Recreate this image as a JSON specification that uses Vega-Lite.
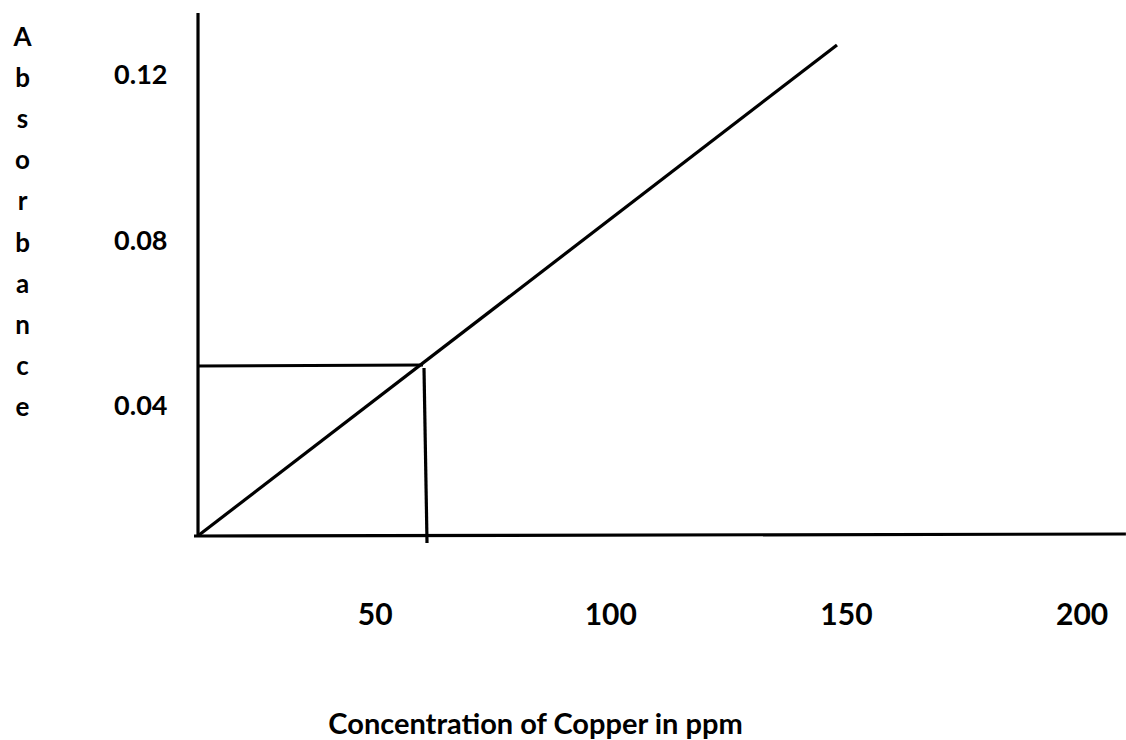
{
  "$schema": "https://vega.github.io/schema/vega-lite/v6.json",
  "width": 936,
  "height": 540,
  "autosize": {"type": "none"},
  "padding": {"left": 190, "top": 10, "right": 0, "bottom": 190},
  "background": "white",
  "config": {
    "view": {"stroke": null},
    "axis": {"grid": false, "domain": false, "ticks": false, "tickSize": 0, "labelColor": "black", "titleColor": "black", "labelFont": "Lato", "titleFont": "Lato", "labelFontWeight": "bold", "titleFontWeight": "bold"}
  },
  "data": {
    "values": [
      {"part": "y axis", "x0": 12.52, "y0": 0.13494, "x1": 12.52, "y1": 0.008675},
      {"part": "x axis", "x0": 11.67, "y0": 0.008916, "x1": 209.4, "y1": 0.009398},
      {"part": "calibration line", "x0": 12.73, "y0": 0.009157, "x1": 148.1, "y1": 0.12723},
      {"part": "absorbance reading", "x0": 12.31, "y0": 0.04988, "x1": 60.26, "y1": 0.05012},
      {"part": "concentration reading", "x0": 60.47, "y0": 0.0494, "x1": 61.11, "y1": 0.00723}
    ]
  },
  "mark": {"type": "rule", "color": "black", "strokeWidth": 3.2, "strokeCap": "butt"},
  "encoding": {
    "x": {
      "field": "x0", "type": "quantitative",
      "scale": {"domain": [10.82, 209.42], "nice": false, "zero": false},
      "axis": {
        "values": [50, 100, 150, 200],
        "labelFontSize": 30, "labelBaseline": "middle", "labelPadding": 65,
        "labelFlush": false, "labelOverlap": false,
        "title": "Concentration of Copper in ppm",
        "titleFontSize": 29, "titleX": 345, "titleY": 183,
        "titleAlign": "center", "titleBaseline": "alphabetic", "titleAnchor": null
      }
    },
    "x2": {"field": "x1"},
    "y": {
      "field": "y0", "type": "quantitative",
      "scale": {"domain": [0.005542, 0.135663], "nice": false, "zero": false},
      "axis": {
        "values": [0.04, 0.08, 0.12], "format": ".2f",
        "labelFontSize": 27, "labelAlign": "right", "labelBaseline": "middle", "labelPadding": 23,
        "labelFlush": false, "labelOverlap": false,
        "title": ["A", "b", "s", "o", "r", "b", "a", "n", "c", "e"],
        "titleFontSize": 26, "titleAngle": 0, "titleLineHeight": 41.2,
        "titleX": -168, "titleY": 35, "titleAlign": "center", "titleBaseline": "alphabetic"
      }
    },
    "y2": {"field": "y1"}
  }
}
